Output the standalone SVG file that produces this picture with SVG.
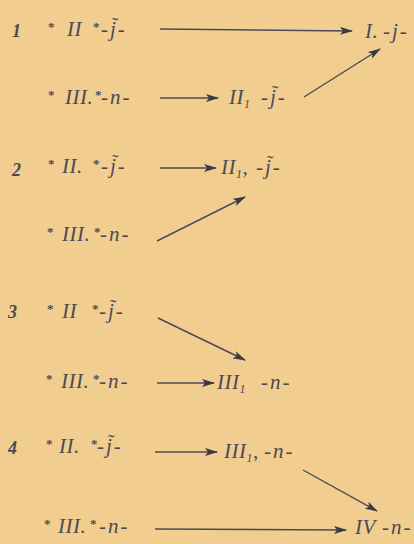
<svg xmlns="http://www.w3.org/2000/svg" width="414" height="544" viewBox="0 0 414 544">
<style>
text{font-family:"Liberation Serif","DejaVu Serif",serif;font-style:italic;font-size:21px;fill:#4a4a56;letter-spacing:0.5px}
.sfx{letter-spacing:2px}
.num{font-weight:bold;font-size:18px}
.ast{font-size:13px;font-style:normal;font-weight:bold}
.sub{font-size:12px}
.c{stroke:#4a4a56;stroke-width:1.4;fill:none;marker-end:url(#ah)}
</style>
<defs>
<marker id="ah" viewBox="0 0 13 8" refX="12" refY="4" markerWidth="13" markerHeight="8" markerUnits="userSpaceOnUse" orient="auto">
<path d="M0,0 L13,4 L0,8 L3,4 z" fill="#3a3a46"/>
</marker>
</defs>
<rect width="414" height="544" fill="#f2cd90"/>
<g id="labels">
<text class="num" x="12" y="37">1</text>
<text class="num" x="12" y="176">2</text>
<text class="num" x="8" y="318">3</text>
<text class="num" x="8" y="454">4</text>
</g>
<g id="n1a"><text class="ast" x="48" y="31">*</text><text x="67" y="36">II</text><text class="ast" x="93" y="31">*</text><text class="sfx" x="101" y="36">-j̃-</text></g>
<g id="n1b"><text class="ast" x="48" y="99">*</text><text x="65" y="104">III.</text><text class="ast" x="95" y="99">*</text><text class="sfx" x="101" y="104">-n-</text></g>
<g id="n1c"><text x="229" y="104">II<tspan class="sub" dy="4">1</tspan></text><text class="sfx" x="261" y="104">-j̃-</text></g>
<g id="n1d"><text x="365" y="38">I.</text><text class="sfx" x="383" y="38">-j-</text></g>

<g id="n2a"><text class="ast" x="48" y="168">*</text><text x="62" y="173">II.</text><text class="ast" x="93" y="168">*</text><text class="sfx" x="101" y="173">-j̃-</text></g>
<g id="n2b"><text class="ast" x="47" y="236">*</text><text x="62" y="241">III.</text><text class="ast" x="94" y="236">*</text><text class="sfx" x="100" y="241">-n-</text></g>
<g id="n2c"><text x="221" y="174">II<tspan class="sub" dy="4">1</tspan><tspan dy="-4">,</tspan></text><text class="sfx" x="256" y="174">-j̃-</text></g>

<g id="n3a"><text class="ast" x="47" y="313">*</text><text x="62" y="318">II</text><text class="ast" x="92" y="313">*</text><text class="sfx" x="99" y="318">-j̃-</text></g>
<g id="n3b"><text class="ast" x="46" y="383">*</text><text x="61" y="388">III.</text><text class="ast" x="93" y="383">*</text><text class="sfx" x="99" y="388">-n-</text></g>
<g id="n3c"><text x="217" y="389">III<tspan class="sub" dy="4">1</tspan></text><text class="sfx" x="261" y="389">-n-</text></g>

<g id="n4a"><text class="ast" x="46" y="448">*</text><text x="59" y="453">II.</text><text class="ast" x="91" y="448">*</text><text class="sfx" x="97" y="453">-j̃-</text></g>
<g id="n4b"><text class="ast" x="44" y="528">*</text><text x="58" y="533">III.</text><text class="ast" x="90" y="528">*</text><text class="sfx" x="99" y="533">-n-</text></g>
<g id="n4c"><text x="224" y="458">III<tspan class="sub" dy="4">1</tspan><tspan dy="-4">,</tspan></text><text class="sfx" x="264" y="458">-n-</text></g>
<g id="n4d"><text x="355" y="534">IV</text><text class="sfx" x="382" y="534">-n-</text></g>

<g id="connectors">
<path class="c" d="M160,29 L352,31"/>
<path class="c" d="M160,98 L218,98"/>
<path class="c" d="M304,97 L380,49"/>
<path class="c" d="M160,168 L216,168"/>
<path class="c" d="M157,241 L245,197"/>
<path class="c" d="M158,318 L245,360"/>
<path class="c" d="M157,383 L214,383"/>
<path class="c" d="M155,452 L217,452"/>
<path class="c" d="M303,470 L377,511"/>
<path class="c" d="M155,529 L346,530"/>
</g>
</svg>
